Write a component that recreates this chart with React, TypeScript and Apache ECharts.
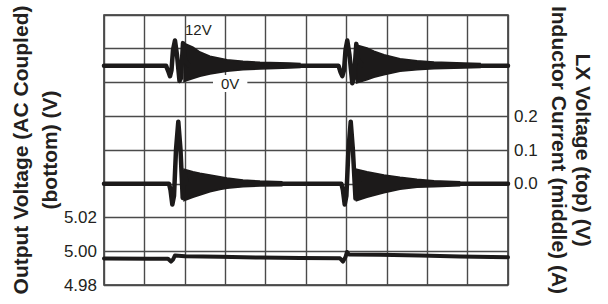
import React, { useEffect, useRef } from "react";
import * as echarts from "echarts";

// x in oscilloscope divisions (0..10)
// LX voltage trace (top), volts: [t, V]
const lxTrace: number[][] = [
  [0, 4.5], [1.535, 4.5], [1.597, 2.8], [1.634, 1.7], [1.671, 3.3], [1.708, 8.7],
  [1.757, 11.2], [1.807, 7.3], [1.869, 0.4], [1.906, 1.2], [1.955, 10.5], [2.005, 6.0],
  [2.1, 4.5], [5.804, 4.5], [5.854, 2.8], [5.899, 1.7], [5.941, 3.3], [5.978, 8.7],
  [6.022, 11.2], [6.077, 7.3], [6.146, -0.2], [6.188, 1.2], [6.245, 10.3], [6.287, 6.0],
  [6.4, 4.5], [10, 4.5],
];
// LX ringing envelope: [t, upper V, lower V]
const lxRing1: number[][] = [
  [1.98, 10.5, 0.3], [2.203, 9.4, 1.07], [2.376, 8.13, 1.65], [2.624, 6.99, 2.27],
  [3.045, 6.08, 2.99], [3.441, 5.65, 3.41], [3.861, 5.39, 3.6], [4.604, 5.2, 3.87], [4.85, 5.07, 4.0],
];
const lxRing2: number[][] = [
  [6.25, 10.0, -0.13], [6.51, 9.2, 0.75], [6.683, 8.32, 1.39], [6.931, 7.41, 2.08],
  [7.327, 6.35, 2.99], [7.748, 5.81, 3.41], [8.168, 5.47, 3.68], [8.911, 5.2, 3.87], [9.31, 5.07, 4.0],
];

// Inductor current trace (middle), amps
const ilTrace: number[][] = [
  [0, 0.0], [1.609, 0.0], [1.646, -0.0185], [1.691, -0.0615], [1.733, -0.036], [1.782, 0.1],
  [1.839, 0.184], [1.894, 0.1], [1.948, -0.042], [1.993, 0.035], [2.05, 0.0],
  [5.876, 0.0], [5.913, -0.0185], [5.958, -0.0615], [6.0, -0.036], [6.05, 0.1],
  [6.107, 0.184], [6.161, 0.1], [6.225, -0.044], [6.262, 0.035], [6.32, 0.0], [10, 0.0],
];
const ilRing1: number[][] = [
  [1.98, 0.0428, -0.0502], [2.203, 0.0357, -0.0401], [2.376, 0.031, -0.0333],
  [2.624, 0.0259, -0.0236], [2.871, 0.0209, -0.017], [3.045, 0.017, -0.0135],
  [3.441, 0.0111, -0.0087], [3.861, 0.0081, -0.0067], [4.4, 0.0062, -0.0062],
];
const ilRing2: number[][] = [
  [6.25, 0.0428, -0.0502], [6.51, 0.0357, -0.0401], [6.931, 0.0259, -0.0265],
  [7.327, 0.0191, -0.0164], [7.748, 0.0132, -0.0105], [8.168, 0.009, -0.0087],
  [8.8, 0.0062, -0.0062],
];

// Output voltage (bottom), volts
const voutTrace: number[][] = [
  [0, 4.9957], [1.139, 4.9956], [1.584, 4.9955], [1.658, 4.9939], [1.708, 4.9951],
  [1.757, 4.9975], [2.005, 4.997], [2.871, 4.9967], [3.861, 4.9963], [4.851, 4.996],
  [5.842, 4.9958], [5.916, 4.9939], [5.978, 4.9966], [6.015, 4.9996], [6.064, 4.9981],
  [6.832, 4.9979], [7.822, 4.9975], [8.812, 4.9969], [10, 4.9964],
];

const leftName = "Output Voltage (AC Coupled)\n(bottom) (V)";
const rightName = "LX Voltage (top) (V)\nInductor Current (middle) (A)";
const lxLabels = ["12V", "0V"];

const FONT = "'Liberation Sans', Arial, sans-serif";
const INK = "#1c1a1a";
const GRID = "#4a4a4a";

function band(name: string, yAxisIndex: number, env: number[][]) {
  return {
    type: "custom",
    name,
    yAxisIndex,
    data: env,
    encode: { x: 0, y: [1, 2] },
    renderItem: (params: any, api: any) => {
      if (params.dataIndex !== 0) return null;
      const top = env.map((d) => api.coord([d[0], d[1]]));
      const bot = env.map((d) => api.coord([d[0], d[2]])).reverse();
      return {
        type: "polygon",
        shape: { points: top.concat(bot) },
        style: { fill: INK, stroke: INK, lineWidth: 1.5 },
      };
    },
  };
}

function trace(name: string, yAxisIndex: number, data: number[][], width: number) {
  return {
    type: "line",
    name,
    yAxisIndex,
    data,
    symbol: "none",
    lineStyle: { color: INK, width, join: "round", cap: "round" },
  };
}

export default function App() {
  const ref = useRef<HTMLDivElement>(null);
  useEffect(() => {
    if (!ref.current) return;
    const chart = echarts.init(ref.current, undefined, { renderer: "svg" });
    chart.setOption({
      animation: false,
      backgroundColor: "#fff",
      grid: {
        left: 104, top: 15, width: 404, height: 270, outerBoundsMode: "none", containLabel: false,
        show: true, borderColor: "#2a2a2a", borderWidth: 1.5, backgroundColor: "transparent",
      },
      xAxis: {
        type: "value", min: 0, max: 10, interval: 1,
        axisLine: { show: false }, axisTick: { show: false }, axisLabel: { show: false },
        splitLine: { show: true, lineStyle: { color: GRID, width: 1.4 } },
      },
      yAxis: [
        {
          type: "value", position: "left", min: 4.98, max: 5.14, interval: 0.02,
          name: leftName, nameLocation: "middle", nameGap: 40, nameMoveOverlap: false,
          nameTextStyle: { fontFamily: FONT, fontSize: 21, fontWeight: "bold", color: "#231f20", lineHeight: 29 },
          axisLine: { show: false }, axisTick: { show: false },
          axisLabel: {
            fontFamily: FONT, fontSize: 17, color: "#231f20", margin: 7,
            formatter: (v: number) => (v < 5.03 ? v.toFixed(2) : ""),
          },
          splitLine: { show: true, lineStyle: { color: GRID, width: 1.4 } },
        },
        {
          type: "value", position: "right", min: -0.3, max: 0.5, interval: 0.1,
          name: rightName, nameLocation: "middle", nameGap: 39, nameRotate: -90, nameMoveOverlap: false,
          nameTextStyle: { fontFamily: FONT, fontSize: 21, fontWeight: "bold", color: "#231f20", lineHeight: 24 },
          axisLine: { show: false }, axisTick: { show: false },
          axisLabel: {
            fontFamily: FONT, fontSize: 17, color: "#231f20", margin: 6,
            formatter: (v: number) => (Math.abs(v) < 1e-9 ? "0.0" : v > 0 && v < 0.25 ? v.toFixed(1) : ""),
          },
          splitLine: { show: false },
        },
        { type: "value", show: false, min: -54, max: 18, interval: 9, splitLine: { show: false } },
      ],
      series: [
        trace("LX Voltage", 2, lxTrace, 4.5),
        band("LX ringing 1", 2, lxRing1),
        band("LX ringing 2", 2, lxRing2),
        trace("Inductor Current", 1, ilTrace, 4.5),
        band("IL ringing 1", 1, ilRing1),
        band("IL ringing 2", 1, ilRing2),
        trace("Output Voltage", 0, voutTrace, 4),
      ],
      graphic: [
        {
          type: "text", left: 185, top: 22, z: 10,
          style: { text: lxLabels[0], fontFamily: FONT, fontSize: 15, fill: "#231f20" },
        },
        {
          type: "text", left: 213, top: 75, z: 10,
          style: {
            text: lxLabels[1], fontFamily: FONT, fontSize: 15, fill: "#231f20",
            backgroundColor: "#fff", padding: [1, 8, 1, 8],
          },
        },
      ],
    });
    return () => chart.dispose();
  }, []);
  return (
    <div
      ref={ref}
      style={{ position: "absolute", left: 0, top: 0, width: 608, height: 304, background: "#fff" }}
    />
  );
}
